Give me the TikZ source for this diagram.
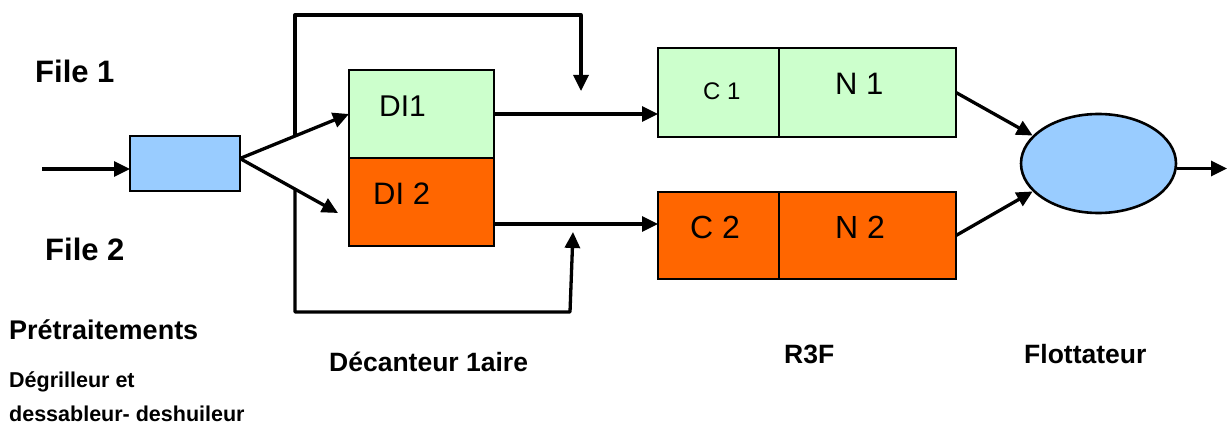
\documentclass[tikz,border=0pt]{standalone}
\usepackage{fontspec}
\setmainfont{Liberation Sans}
\usetikzlibrary{arrows.meta,shapes.geometric}
\definecolor{lgreen}{HTML}{CCFFCC}
\definecolor{dorange}{HTML}{FF6600}
\definecolor{lblue}{HTML}{99CCFF}
\newcommand{\fs}[1]{\fontsize{#1}{#1}\selectfont}
\begin{document}
\begin{tikzpicture}[x=1pt,y=-1pt,
  box/.style={draw=black, line width=2.6pt, inner sep=0pt, outer sep=0pt, anchor=north west},
  conn/.style={line width=3.3pt, line join=round, -{Triangle[length=16pt,width=15pt]}},
  lbl/.style={anchor=base west, inner sep=0pt, font=\bfseries},
  txt/.style={anchor=base west, inner sep=0pt}]
\useasboundingbox (0,0) rectangle (1228,425);
% boxes
\node[box, fill=lblue, minimum width=110pt, minimum height=55pt] (pre) at (130,136) {};
\node[box, fill=lgreen, minimum width=145pt, minimum height=88pt] (di1) at (349,70) {};
\node[box, fill=dorange, minimum width=145pt, minimum height=88pt] (di2) at (349,158) {};
\node[box, fill=lgreen, minimum width=121pt, minimum height=89pt] (c1) at (658,48) {};
\node[box, fill=lgreen, minimum width=177pt, minimum height=89pt] (n1) at (779,48) {};
\node[box, fill=dorange, minimum width=121pt, minimum height=87pt] (c2) at (658,192) {};
\node[box, fill=dorange, minimum width=177pt, minimum height=87pt] (n2) at (779,192) {};
\node[draw, ellipse, fill=lblue, line width=2.6pt, minimum width=155pt, minimum height=99pt, inner sep=0pt] (flot) at (1098.5,163.5) {};
% box texts
\node[txt, font=\fs{30}] (tdi1) at (379,117) {DI1};
\node[txt, font=\fs{31}] (tdi2) at (373,204) {DI 2};
\node[txt, font=\fs{24}] (tc1) at (703,100) {C 1};
\node[txt, font=\fs{31}] (tn1) at (835,95) {N 1};
\node[txt, font=\fs{32}] (tc2) at (690,238) {C 2};
\node[txt, font=\fs{32}] (tn2) at (835,238) {N 2};
% labels
\node[lbl, font=\bfseries\fs{31}] (f1) at (35,83) {File 1};
\node[lbl, font=\bfseries\fs{31}] (f2) at (45,260) {File 2};
\node[lbl, font=\bfseries\fs{27}] (lpre) at (9,339) {Prétraitements};
\node[lbl, font=\bfseries\fs{21.5}] (ldeg) at (9,387) {Dégrilleur et};
\node[lbl, font=\bfseries\fs{21.5}] (ldes) at (9,421) {dessableur- deshuileur};
\node[lbl, font=\bfseries\fs{26.5}] (ldec) at (329,371) {Décanteur 1aire};
\node[lbl, font=\bfseries\fs{26.5}] (lr3f) at (784,363) {R3F};
\node[lbl, font=\bfseries\fs{26.5}] (lflo) at (1024,363) {Flottateur};
% coordinates
\coordinate (in) at (42,169);
\coordinate (d2in) at (338,213);
\coordinate (byp1) at (295,136);
\coordinate (byp2) at (295,189);
\coordinate (tp) at (581,91);
\coordinate (bt) at (573,232);
\coordinate (out) at (1227,168.5);
% connectors
\draw[conn] (in) -- (in -| pre.west);
\draw[conn] ([yshift=5pt]pre.east) -- (di1.west);
\draw[conn] ([yshift=5pt]pre.east) -- (d2in);
\draw[conn] (byp1) -- (295,15) -| (tp);
\draw[conn] (byp2) -- (295,312) -- (570,312) -- (bt);
\draw[conn] (di1.east) -- (di1.east -| c1.west);
\draw[conn] ([yshift=-22pt]di2.east) -- ([yshift=-22pt]di2.east -| c2.west);
\draw[conn] (n1.east) -- (flot.157);
\draw[conn] (n2.east) -- (flot.203);
\draw[conn] ([yshift=-5pt]flot.east) -- (out);
\end{tikzpicture}
\end{document}
